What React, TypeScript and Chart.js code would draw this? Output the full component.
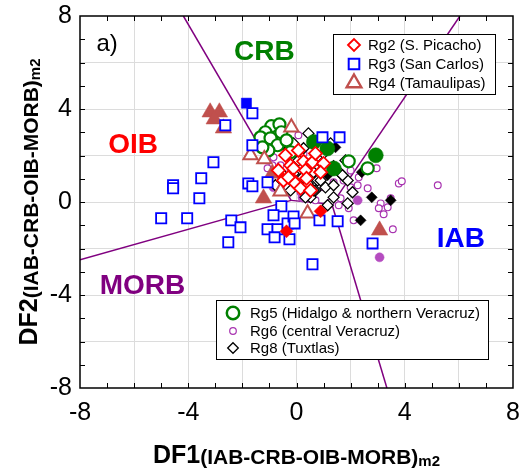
import React, { useEffect, useRef } from 'react';
import { Chart, registerables } from 'chart.js';

Chart.register(...registerables);

const FONT = '"Liberation Sans", Arial, Helvetica, sans-serif';

type P = [number, number];

// ---------- axis ----------
const axisMin = -8;
const axisMax = 8;
const tickLabels = [-8, -4, 0, 4, 8];

// ---------- series names ----------
const seriesNames = [
  'Rg2 (S. Picacho)',
  'Rg3 (San Carlos)',
  'Rg4 (Tamaulipas)',
  'Rg5 (Hidalgo & northern Veracruz)',
  'Rg6 (central Veracruz)',
  'Rg8 (Tuxtlas)',
];

// ---------- data (DF1, DF2) ----------
const rg2Open: P[] = [
  [-0.22, 1.58], [0.26, 1.75], [0.59, 1.71], [1.0, 1.66], [-0.11, 1.45], [0.33, 1.36],
  [0.89, 1.28], [-0.48, 0.93], [-0.11, 0.93], [-0.3, 1.06], [-0.04, 0.8], [0.15, 0.59],
  [0.52, 0.5], [-0.41, 2.01], [0.07, 2.22], [0.7, 2.09], [-0.67, 1.36], [0.37, 1.02],
];
const rg2Filled: P[] = [[0.89, -0.4], [-0.37, -1.26]];

const rg3Open: P[] = [
  [-1.63, 3.82], [-2.63, 3.3], [-1.63, 2.44], [-3.07, 1.71], [-3.52, 1.02], [-4.56, 0.72],
  [-4.56, 0.59], [-3.59, 0.16], [-5.0, -0.7], [-4.04, -0.7], [-2.41, -0.79], [-2.07, -1.09],
  [-2.52, -1.73], [-1.78, 0.8], [-1.63, 0.68], [-1.07, 0.85], [-0.56, -0.18], [-0.85, -0.57],
  [-1.07, -1.17], [-0.7, -1.17], [-0.81, -1.52], [-0.33, -0.92], [-0.26, -1.6], [-0.11, -0.62],
  [-0.07, -0.92], [0.85, -0.79], [1.52, -0.83], [2.81, -1.78], [0.59, -2.68], [0.96, 2.78],
  [1.59, 2.78],
];
const rg3Filled: P[] = [[-1.85, 4.25]];

const rg4Open: P[] = [[-0.19, 3.21], [-1.7, 2.01], [-1.19, 1.84], [-0.59, 0.46], [0.41, -0.49]];
const rg4Filled: P[] = [
  [-3.19, 3.86], [-2.85, 3.86], [-3.04, 3.56], [-2.7, 3.17], [-0.89, 1.23], [-1.22, 0.16], [3.07, -1.22],
];

const rg5Open: P[] = [
  [-0.93, 3.26], [-0.63, 3.34], [-1.15, 3.0], [-0.56, 3.0], [-1.33, 2.78], [-0.96, 2.74],
  [-0.7, 2.44], [-0.37, 2.65], [-0.22, 2.14], [-1.04, 2.22], [1.93, 1.75], [2.63, 1.45],
  [-1.26, 2.35],
];
const rg5Filled: P[] = [[0.64, 2.58], [1.14, 2.3], [1.38, 1.44], [2.93, 2.01]];

const rg6Open: P[] = [
  [0.26, 2.09], [-0.41, 2.09], [0.07, 2.87], [0.04, 2.22], [-0.33, 1.92], [-1.07, 1.88],
  [-0.85, 1.92], [-0.89, 1.58], [-1.07, 1.45], [-0.7, 1.36], [-0.89, 1.23], [-0.11, 0.8],
  [0.07, 0.63], [0.15, 0.42], [0.41, 0.29], [0.59, 0.5], [1.0, 0.63], [1.37, 0.85],
  [1.74, 0.93], [2.0, 0.63], [0.22, 0.16], [0.7, 0.07], [1.26, -0.01], [2.0, 1.36],
  [2.3, 1.06], [2.96, 1.45], [2.26, 0.72], [3.78, 0.8], [3.89, 0.89], [5.22, 0.72],
  [2.63, 0.59], [3.48, 0.16], [3.11, -0.06], [3.37, -0.23], [3.04, -0.27], [3.22, -0.53],
  [3.56, -1.17], [2.11, -0.79], [1.93, -0.27], [1.63, 0.16], [1.56, -0.14], [-0.59, 1.58],
  [-0.22, 1.36],
];
const rg6Filled: P[] = [[-0.85, 0.63], [0.22, 0.2], [0.48, 0.25], [2.26, 0.07], [3.07, -2.38]];

const rg8Open: P[] = [
  [0.44, 2.95], [0.81, 2.65], [-0.11, 2.52], [-0.52, 2.74], [0.26, 2.31], [1.26, 2.52],
  [1.0, 2.09], [1.37, 1.54], [0.93, 1.66], [1.63, 1.23], [1.89, 0.93], [0.78, 0.93],
  [0.41, 0.8], [1.07, 0.63], [0.7, 0.5], [1.37, 0.2], [2.07, 0.42], [1.89, -0.06],
  [1.15, -0.14], [0.52, 0.2], [-0.48, 1.15], [-0.11, 1.23], [0.19, 1.02], [0.89, 0.93],
  [1.37, 0.72], [1.7, 1.15], [0.04, 0.8], [0.63, 0.5], [0.33, 0.2], [0.07, 1.79],
  [0.44, 1.58], [-0.22, 0.5], [-0.78, 0.72], [0.63, 1.28], [1.81, 1.79],
];
const rg8Filled: P[] = [
  [-0.48, 2.44], [-0.3, 2.01], [0.7, 2.01], [1.44, 2.35], [1.15, 1.15], [2.41, 1.28],
  [2.78, 0.2], [3.48, 0.07], [2.37, -0.79],
];

// ---------- field boundaries ----------
const boundaryOibCrb: P[] = [[-4.18, 8], [-0.2, 0.07]];
const boundaryOibMorb: P[] = [[-8, -2.48], [-0.2, 0.07]];
const boundaryCrbMorb: P[] = [[-0.2, 0.07], [1.31, -0.1]];
const boundaryCrbIab: P[] = [[1.31, -0.1], [6.04, 8]];
const boundaryIabMorb: P[] = [[1.31, -0.1], [3.34, -8]];

// ---------- field names ----------
const fieldNames = ['CRB', 'OIB', 'IAB', 'MORB'];
const fieldX = [-1.19, -6.04, 6.07, -5.69];
const fieldY = [6.44, 2.44, -1.6, -3.63];
const panelLabel = 'a)';

// ---------- styles ----------
const C = {
  red: '#ff0000',
  blue: '#0000ff',
  brown: '#c0504d',
  green: '#008000',
  purple: '#a833b0',
  purpleFill: '#b54cc0',
  black: '#000000',
  line: '#800080',
};
const fieldColors = [C.green, C.red, C.blue, C.line];

type Sty = { style: string; color: string; r: number; lw: number; rf: number };
const styles: Sty[] = [
  { style: 'rectRot', color: C.red, r: 6.5, lw: 1.8, rf: 6.5 },
  { style: 'rect', color: C.blue, r: 7.2, lw: 1.8, rf: 7.2 },
  { style: 'triangle', color: C.brown, r: 8.2, lw: 2, rf: 9.5 },
  { style: 'circle', color: C.green, r: 6, lw: 2.2, rf: 7.5 },
  { style: 'circle', color: C.purple, r: 3.4, lw: 1.2, rf: 4.5 },
  { style: 'rectRot', color: C.black, r: 5.5, lw: 1.3, rf: 5.5 },
];

const toXY = (a: P[]) => a.map(([x, y]) => ({ x, y }));

function openSet(data: P[], s: Sty) {
  return {
    data: toXY(data),
    showLine: false,
    pointStyle: s.style,
    pointRadius: s.r,
    pointBorderWidth: s.lw,
    pointBorderColor: s.color,
    pointBackgroundColor: '#ffffff',
  };
}
function filledSet(data: P[], s: Sty, fill?: string) {
  return {
    data: toXY(data),
    showLine: false,
    pointStyle: s.style,
    pointRadius: s.rf,
    pointBorderWidth: 0.5,
    pointBorderColor: fill || s.color,
    pointBackgroundColor: fill || s.color,
  };
}
function lineSet(data: P[]) {
  return {
    data: toXY(data),
    showLine: true,
    borderColor: C.line,
    borderWidth: 1.5,
    pointRadius: 0,
    fill: false,
  };
}

function marker(ctx: CanvasRenderingContext2D, style: string, x: number, y: number, r: number, stroke: string | null, fill: string | null, lw: number) {
  ctx.save();
  ctx.beginPath();
  if (style === 'circle') ctx.arc(x, y, r, 0, Math.PI * 2);
  else if (style === 'rect') {
    const s = r * Math.SQRT1_2;
    ctx.rect(x - s, y - s, 2 * s, 2 * s);
  } else if (style === 'rectRot') {
    ctx.moveTo(x - r, y); ctx.lineTo(x, y - r); ctx.lineTo(x + r, y); ctx.lineTo(x, y + r); ctx.closePath();
  } else if (style === 'triangle') {
    for (let i = 0; i < 3; i++) {
      const a = (i * 2 * Math.PI) / 3;
      const px = x + Math.sin(a) * r;
      const py = y - Math.cos(a) * r;
      if (i) ctx.lineTo(px, py); else ctx.moveTo(px, py);
    }
    ctx.closePath();
  }
  if (fill) { ctx.fillStyle = fill; ctx.fill(); }
  if (stroke && lw) { ctx.lineWidth = lw; ctx.strokeStyle = stroke; ctx.stroke(); }
  ctx.restore();
}

function drawMixed(ctx: CanvasRenderingContext2D, parts: { t: string; f: string; dy: number }[], cx: number, cy: number) {
  let total = 0;
  const ws = parts.map((p) => { ctx.font = p.f; const w = ctx.measureText(p.t).width; total += w; return w; });
  let x = cx - total / 2;
  ctx.textAlign = 'left';
  ctx.textBaseline = 'alphabetic';
  parts.forEach((p, i) => { ctx.font = p.f; ctx.fillText(p.t, x, cy + p.dy); x += ws[i]; });
}

const legendBoxes = [
  { x: 333, y: 34, w: 162, h: 60, mx: 354, tx: 368, rows: [45, 64, 83], idx: [0, 1, 2] },
  { x: 216, y: 300, w: 272, h: 59, mx: 233, tx: 250, rows: [313, 331, 348], idx: [3, 4, 5] },
];
const legendMarkerR = [6, 7.5, 8.5, 6.2, 3.3, 5.3];
const legendMarkerLw = [1.8, 2, 2.4, 2.5, 1.2, 1.3];

const framePlugin = {
  id: 'frameAndText',
  beforeDatasetsDraw(chart: any) {
    const { ctx, scales } = chart;
    const xs = scales.x, ys = scales.y;
    ctx.save();
    ctx.font = `bold 28px ${FONT}`;
    ctx.textAlign = 'center';
    ctx.textBaseline = 'middle';
    fieldNames.forEach((n, i) => {
      ctx.fillStyle = fieldColors[i];
      ctx.fillText(n, xs.getPixelForValue(fieldX[i]), ys.getPixelForValue(fieldY[i]));
    });
    ctx.fillStyle = '#000';
    ctx.font = `24px ${FONT}`;
    ctx.fillText(panelLabel, xs.getPixelForValue(-7.0), ys.getPixelForValue(6.78));
    ctx.restore();
  },
  afterDatasetsDraw(chart: any) {
    const { ctx, chartArea: a, scales } = chart;
    const xs = scales.x, ys = scales.y;
    ctx.save();
    ctx.strokeStyle = '#000';
    ctx.lineWidth = 1.5;
    ctx.strokeRect(a.left, a.top, a.right - a.left, a.bottom - a.top);
    ctx.lineWidth = 1;
    ctx.beginPath();
    for (let v = axisMin + 1; v < axisMax; v++) {
      const px = Math.round(xs.getPixelForValue(v)) + 0.5;
      ctx.moveTo(px, a.bottom); ctx.lineTo(px, a.bottom - 5);
      ctx.moveTo(px, a.top); ctx.lineTo(px, a.top + 5);
      const py = Math.round(ys.getPixelForValue(v)) + 0.5;
      ctx.moveTo(a.left, py); ctx.lineTo(a.left + 5, py);
      ctx.moveTo(a.right, py); ctx.lineTo(a.right - 5, py);
    }
    ctx.stroke();
    legendBoxes.forEach((b) => {
      ctx.fillStyle = '#fff';
      ctx.fillRect(b.x, b.y, b.w, b.h);
      ctx.strokeStyle = '#000';
      ctx.lineWidth = 1;
      ctx.strokeRect(b.x + 0.5, b.y + 0.5, b.w, b.h);
      b.idx.forEach((si, k) => {
        const s = styles[si];
        marker(ctx, s.style, b.mx, b.rows[k], legendMarkerR[si], s.color, '#fff', legendMarkerLw[si]);
        ctx.fillStyle = '#000';
        ctx.font = `15px ${FONT}`;
        ctx.textAlign = 'left';
        ctx.textBaseline = 'middle';
        ctx.fillText(seriesNames[si], b.tx, b.rows[k] + 1);
      });
    });
    ctx.restore();
  },
  afterDraw(chart: any) {
    const { ctx, chartArea: a } = chart;
    ctx.save();
    ctx.fillStyle = '#000';
    drawMixed(ctx, [
      { t: 'DF1', f: `bold 25px ${FONT}`, dy: 0 },
      { t: '(IAB-CRB-OIB-MORB)', f: `bold 21px ${FONT}`, dy: 1 },
      { t: 'm2', f: `bold 15px ${FONT}`, dy: 3 },
    ], (a.left + a.right) / 2, 463);
    ctx.translate(37, (a.top + a.bottom) / 2);
    ctx.rotate(-Math.PI / 2);
    drawMixed(ctx, [
      { t: 'DF2', f: `bold 25px ${FONT}`, dy: 0 },
      { t: '(IAB-CRB-OIB-MORB)', f: `bold 21px ${FONT}`, dy: 1 },
      { t: 'm2', f: `bold 15px ${FONT}`, dy: 3 },
    ], 0, 0);
    ctx.restore();
  },
};

const gridColor = (ctx: any) => {
  const v = ctx.tick ? ctx.tick.value : 0;
  return v % 2 === 0 && Math.abs(v) !== 8 ? '#dcdcdc' : 'rgba(0,0,0,0)';
};

const zeroPad = (s: any) => {
  s.paddingTop = 0;
  s.paddingBottom = 0;
  s.paddingLeft = 0;
  s.paddingRight = 0;
};

export default function App() {
  const ref = useRef<HTMLCanvasElement>(null);
  useEffect(() => {
    document.body.style.margin = '0';
    const datasets: any[] = [
      openSet(rg2Open, styles[0]),
      filledSet(rg2Filled, styles[0]),
      openSet(rg3Open, styles[1]),
      filledSet(rg3Filled, styles[1]),
      openSet(rg4Open, styles[2]),
      filledSet(rg4Filled, styles[2]),
      openSet(rg5Open, styles[3]),
      filledSet(rg5Filled, styles[3]),
      filledSet(rg8Filled, styles[5]),
      openSet(rg8Open, styles[5]),
      filledSet(rg6Filled, styles[4], C.purpleFill),
      openSet(rg6Open, styles[4]),
      lineSet(boundaryOibCrb),
      lineSet(boundaryOibMorb),
      lineSet(boundaryCrbMorb),
      lineSet(boundaryCrbIab),
      lineSet(boundaryIabMorb),
    ];
    const tickFont = { family: FONT, size: 25 };
    const chart = new Chart(ref.current as HTMLCanvasElement, {
      type: 'scatter',
      data: { datasets },
      options: {
        animation: false,
        responsive: true,
        maintainAspectRatio: false,
        layout: { padding: { top: 16, right: 11, left: 0, bottom: 0 } },
        plugins: { legend: { display: false }, tooltip: { enabled: false } },
        events: [],
        scales: {
          x: {
            type: 'linear',
            min: axisMin,
            max: axisMax,
            afterFit: (s: any) => { s.height = 85; zeroPad(s); },
            border: { display: false },
            grid: { color: gridColor, drawTicks: false, lineWidth: 1 },
            ticks: {
              stepSize: 1,
              autoSkip: false,
              maxRotation: 0,
              padding: 10,
              color: '#000',
              font: tickFont,
              callback: (v: any) => (tickLabels.includes(Number(v)) ? String(v) : ''),
            },
          },
          y: {
            type: 'linear',
            min: axisMin,
            max: axisMax,
            afterFit: (s: any) => { s.width = 80; zeroPad(s); },
            border: { display: false },
            grid: { color: gridColor, drawTicks: false, lineWidth: 1 },
            ticks: {
              stepSize: 1,
              autoSkip: false,
              padding: 8,
              color: '#000',
              font: tickFont,
              callback: (v: any) => (tickLabels.includes(Number(v)) ? String(v) : ''),
            },
          },
        },
      } as any,
      plugins: [framePlugin],
    });
    return () => chart.destroy();
  }, []);
  return (
    <div style={{ width: 524, height: 473, position: 'relative' }}>
      <canvas ref={ref} />
    </div>
  );
}
